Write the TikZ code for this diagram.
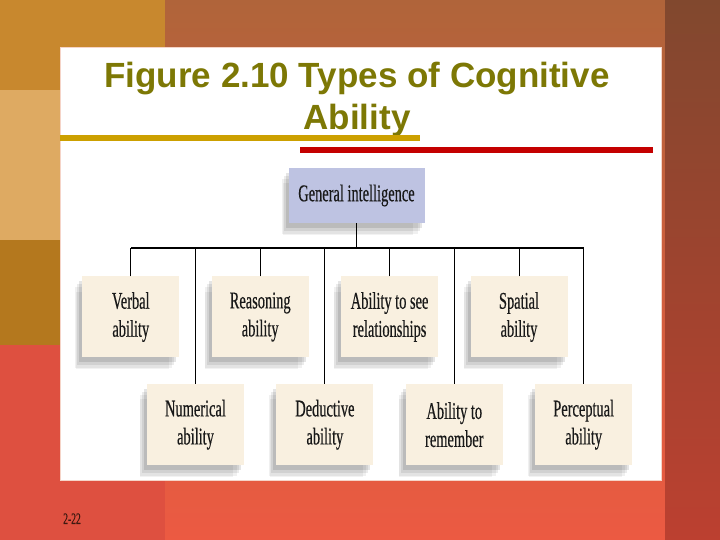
\documentclass[tikz,border=0pt]{standalone}
\usepackage{fontspec}
\setmainfont{Liberation Serif}
\newfontfamily\titlefont{Liberation Sans}
\newfontfamily\boxfont[FakeStretch=0.6, FakeBold=0.4]{Liberation Serif}
\usetikzlibrary{positioning,shadows}
\definecolor{titleolive}{RGB}{125,120,5}
\definecolor{rulegold}{RGB}{204,160,0}
\definecolor{rulered}{RGB}{196,0,0}
\definecolor{boxcream}{RGB}{249,240,224}
\definecolor{genblue}{RGB}{190,195,226}
\definecolor{boxtext}{RGB}{25,25,25}
\definecolor{bgtop}{RGB}{176,100,58}
\definecolor{bgmid}{RGB}{212,96,64}
\definecolor{bgbot}{RGB}{236,90,66}
\definecolor{edgetop}{RGB}{118,66,44}
\definecolor{edgebot}{RGB}{176,58,44}
\definecolor{panelrim}{RGB}{245,212,200}

\begin{document}
\begin{tikzpicture}[x=1pt, y=1pt,
  box/.style={fill=boxcream, minimum width=97pt, minimum height=81pt, align=center,
              inner sep=2pt, text=boxtext, font=\boxfont\fontsize{24}{28}\selectfont,
              drop shadow={shadow xshift=-3pt, shadow yshift=-5pt, fill=black, opacity=.1},
              drop shadow={shadow xshift=-5pt, shadow yshift=-8pt, fill=black, opacity=.08},
              drop shadow={shadow xshift=-7pt, shadow yshift=-11pt, fill=black, opacity=.06},
              drop shadow={shadow xshift=-9pt, shadow yshift=-14pt, shadow scale=.96, fill=black, opacity=.05}},
  head/.style={box, fill=genblue, minimum width=136pt, minimum height=55pt},
  link/.style={line width=1pt},
  bar/.style={line width=1.8pt}]
  \useasboundingbox (0,0) rectangle (720,540);
  % slide background
  \shade[top color=bgtop, middle color=bgmid, bottom color=bgbot] (0,0) rectangle (720,540);
  \fill[fill={rgb,255:red,200;green,136;blue,46}] (0,450) rectangle (165,540);
  \fill[fill={rgb,255:red,222;green,170;blue,98}] (0,300) rectangle (165,450);
  \fill[fill={rgb,255:red,180;green,120;blue,30}] (0,195) rectangle (165,300);
  \fill[fill={rgb,255:red,222;green,80;blue,64}] (0,0) rectangle (165,195);
  \shade[top color=edgetop, bottom color=edgebot, opacity=.8] (665,0) rectangle (720,540);
  % white panel
  \fill[white, draw=panelrim, line width=.8pt] (60,60) rectangle (661,493);
  \node[font=\titlefont\bfseries\fontsize{35}{42}\selectfont, text=titleolive, align=center,
        anchor=north, inner sep=0pt] (title) at (357,478) {Figure 2.10 Types of Cognitive\\Ability};
  \draw[rulegold, line width=6pt] (60,402) -- (420,402);
  \draw[rulered, line width=6pt] (300,389.5) -- (653,389.5);
  % the tree
  \node[head] (gen) at (356.5,344.5) {General intelligence};
  \node[box] (verbal) at (130.8,223) {Verbal\\ability};
  \node[box, right=32pt of verbal] (reason) {Reasoning\\ability};
  \node[box, right=32pt of reason] (see) {Ability to see\\relationships};
  \node[box, right=32pt of see] (spatial) {Spatial\\ability};
  \node[box] (numer) at (195.5,115.3) {Numerical\\ability};
  \node[box, right=32pt of numer] (deduct) {Deductive\\ability};
  \node[box, right=32pt of deduct] (remember) {Ability to\\remember};
  \node[box, right=32pt of remember] (percept) {Perceptual\\ability};
  \coordinate (bar) at (356.5,292);
  \draw[bar] (verbal.north |- bar) -- (percept.north |- bar);
  \draw[link] (gen) -- (gen |- bar);
  \foreach \n in {verbal,reason,see,spatial,numer,deduct,remember,percept}
    \draw[link] (\n) -- (\n |- bar);
  \node[font=\boxfont\fontsize{16}{18}\selectfont, text={rgb,255:red,60;green,24;blue,16},
        anchor=base west, inner sep=0pt] (slideno) at (63,16) {2-22};
\end{tikzpicture}
\end{document}
